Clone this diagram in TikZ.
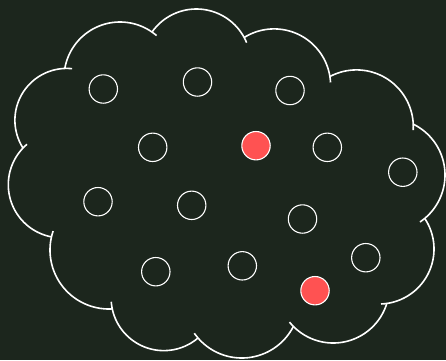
\documentclass[tikz,border=0pt]{standalone}
\usepackage{tikz}
\definecolor{bgc}{RGB}{28,38,29}
\definecolor{redc}{RGB}{255,82,82}
\tikzset{
  cloudline/.style={draw=white, line width=1.6pt},
  dot/.style={circle, draw=white, line width=1.1pt, minimum size=28.4pt, inner sep=0pt},
  reddot/.style={dot, fill=redc}
}
\newcommand{\bump}[5]{\draw[cloudline] plot[domain=#4:#5, samples=60, smooth] ({#1+#3*cos(\x)},{#2+#3*sin(\x)});}
\begin{document}
\begin{tikzpicture}[x=1pt,y=-1pt]
\fill[bgc] (0,0) rectangle (446,360);
\useasboundingbox (0,0) rectangle (446,360);
% cloud outline: 12 circular bumps, each overshooting slightly at its end
\bump{120}{78}{56}{-170.1}{-49.2}
\bump{196.4}{63.3}{54.3}{-144.8}{-22.4}
\bump{274.1}{85.4}{56.5}{-122}{-3}
\bump{356.5}{126.7}{56.8}{-118.1}{3.4}
\bump{388.4}{175}{56.6}{-64}{56.1}
\bump{379}{249}{55}{-33.8}{87.9}
\bump{333.2}{286.9}{56.1}{17.2}{141.2}
\bump{241.8}{300.1}{57.9}{27}{145.1}
\bump{163.8}{297.9}{52.7}{49.5}{175.8}
\bump{109}{250}{59}{86.8}{198.8}
\bump{61.4}{184.7}{53.1}{100.7}{229.6}
\bump{66.7}{120.2}{51.8}{147.6}{276}
% circles
\node[dot] (c1) at (103.3,89) {};
\node[dot] (c2) at (197.5,82) {};
\node[dot] (c3) at (290,90.5) {};
\node[dot] (c4) at (152.7,147.3) {};
\node[reddot] (r1) at (256,145.7) {};
\node[dot] (c5) at (327.3,147.3) {};
\node[dot] (c6) at (402.8,172.2) {};
\node[dot] (c7) at (98,201.7) {};
\node[dot] (c8) at (191.7,205.3) {};
\node[dot] (c9) at (302.5,219) {};
\node[dot] (c10) at (155.8,271.7) {};
\node[dot] (c11) at (242.3,265.8) {};
\node[dot] (c12) at (365.8,257.7) {};
\node[reddot] (r2) at (315,290.7) {};
\end{tikzpicture}
\end{document}
